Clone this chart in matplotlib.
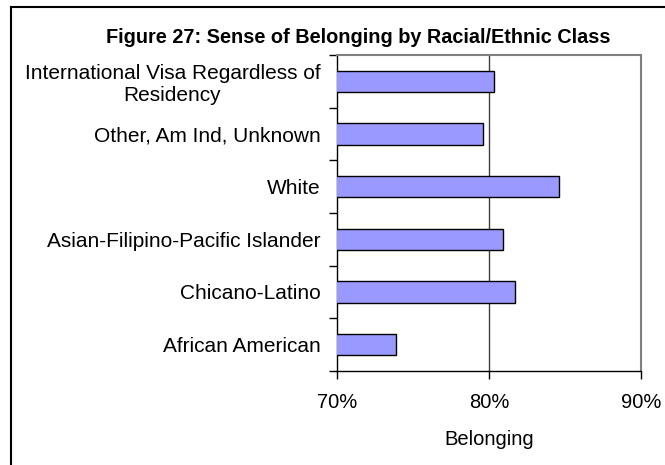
import matplotlib.pyplot as plt
from matplotlib.lines import Line2D
from matplotlib.ticker import FuncFormatter
import numpy as np

plt.rcParams['font.family'] = ['Liberation Sans', 'DejaVu Sans']

# categories listed top to bottom as in the chart
groups = ['International Visa Regardless of\nResidency',
          'Other, Am Ind, Unknown',
          'White',
          'Asian-Filipino-Pacific Islander',
          'Chicano-Latino',
          'African American']
belonging = [0.803, 0.796, 0.846, 0.809, 0.817, 0.739]

x_ticks = [0.70, 0.80, 0.90]

fig = plt.figure(figsize=(6.65, 4.65), dpi=100)
ax = fig.add_axes([0.5068, 0.2022, 0.964 - 0.5068, 0.8817 - 0.2022])

ypos = np.arange(len(groups))
ax.barh(ypos, belonging, height=0.4, color='#9999FF', edgecolor='black',
        linewidth=1.0, zorder=3)

ax.set_ylim(len(groups) - 0.5, -0.5)
ax.set_xlim(0.70, 0.90)

# y axis: labels at centres, tick marks at category boundaries
ax.set_yticks(ypos)
ax.set_yticklabels(groups, fontsize=15, multialignment='center', linespacing=1.2)
ax.tick_params(axis='y', which='major', length=0, pad=12)
ax.set_yticks(np.arange(-0.5, len(groups)), minor=True)
ax.tick_params(axis='y', which='minor', length=6, direction='out', width=1)

ax.set_xticks(x_ticks)
ax.xaxis.set_major_formatter(FuncFormatter(lambda v, p: f'{v*100:.0f}%'))
ax.tick_params(axis='x', length=6, direction='out', width=1, labelsize=14.5, pad=10)
ax.set_xlabel('Belonging', fontsize=14.5, labelpad=13)

ax.axvline(0.80, color='#404040', linewidth=1.0, zorder=1)

for s in ['left', 'bottom']:
    ax.spines[s].set_color('black')
    ax.spines[s].set_linewidth(1.0)
for s in ['top', 'right']:
    ax.spines[s].set_color('#808080')
    ax.spines[s].set_linewidth(1.5)

fig.text(0.538, 0.920, 'Figure 27: Sense of Belonging by Racial/Ethnic Class',
         ha='center', va='center', fontsize=14.3, fontweight='bold')

# outer chart border (top and left edges visible)
fig.add_artist(Line2D([11 / 665, 1.0], [1 - 7 / 465, 1 - 7 / 465],
                      transform=fig.transFigure, color='black', linewidth=1.5))
fig.add_artist(Line2D([11 / 665, 11 / 665], [0.0, 1 - 7 / 465],
                      transform=fig.transFigure, color='black', linewidth=1.5))

fig.savefig('out.png', dpi=100)
